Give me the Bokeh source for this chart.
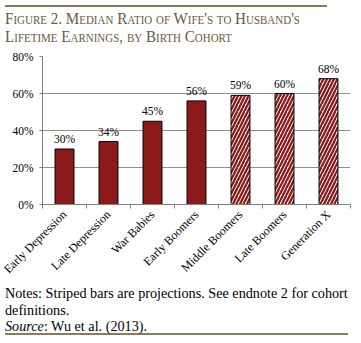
from bokeh.plotting import figure
from bokeh.models import Div, FixedTicker, Range1d, ColumnDataSource
from bokeh.layouts import column
from bokeh.embed import file_html
from bokeh.resources import INLINE
from bokeh.core.properties import value
import math

categories = ["Early Depression", "Late Depression", "War Babies", "Early Boomers",
              "Middle Boomers", "Late Boomers", "Generation X"]
values = [30, 34, 45, 56, 59, 60, 68]
projected = [False, False, False, False, True, True, True]
y_ticks = [0, 20, 40, 60, 80]
y_tick_labels = ["0%", "20%", "40%", "60%", "80%"]

xs = [i + 0.5 for i in range(len(categories))]
actual = dict(x=[x for x, p in zip(xs, projected) if not p],
              top=[v for v, p in zip(values, projected) if not p])
proj = dict(x=[x for x, p in zip(xs, projected) if p],
            top=[v for v, p in zip(values, projected) if p])
labels = ColumnDataSource(dict(x=xs, y=values, t=["%d%%" % v for v in values]))

FONT = "Liberation Serif"

p = figure(frame_width=308, frame_height=148, output_backend="svg", toolbar_location=None,
           x_range=Range1d(0, len(categories)), y_range=Range1d(0, 80),
           min_border_left=42, min_border_right=11, min_border_top=8, min_border_bottom=60)
p.outline_line_color = None
p.background_fill_color = "white"
p.border_fill_color = "white"

p.vbar(x="x", top="top", bottom=0, width=0.43, source=ColumnDataSource(actual),
       fill_color="#8b1a1a", line_color="black", line_width=1)
p.vbar(x="x", top="top", bottom=0, width=0.43, source=ColumnDataSource(proj),
       fill_color="white", line_color="black", line_width=1,
       hatch_pattern="right_diagonal_line", hatch_color="#8b1a1a",
       hatch_scale=7, hatch_weight=2.3)

p.text(x="x", y="y", text="t", source=labels, y_offset=-4,
       text_align="center", text_baseline="bottom",
       text_font=value(FONT), text_font_size="11.5px", text_color="black")

# y axis
p.yaxis.ticker = FixedTicker(ticks=y_ticks)
p.yaxis.major_label_overrides = {t: l for t, l in zip(y_ticks, y_tick_labels)}
p.yaxis.major_label_text_font = FONT
p.yaxis.major_label_text_font_size = "11.5px"
p.yaxis.major_label_text_color = "black"
p.yaxis.axis_line_color = "#808080"
p.yaxis.major_tick_line_color = "#808080"
p.yaxis.major_tick_out = 3
p.yaxis.major_tick_in = 0
p.yaxis.minor_tick_line_color = None
p.yaxis.major_label_standoff = 6

# x axis: labels at centers, boundary ticks as minor ticks
p.xaxis.ticker = FixedTicker(ticks=xs, minor_ticks=list(range(len(categories) + 1)))
p.xaxis.major_label_overrides = {x: c for x, c in zip(xs, categories)}
p.xaxis.major_label_orientation = math.pi / 4
p.xaxis.major_label_text_font = FONT
p.xaxis.major_label_text_font_size = "12px"
p.xaxis.major_label_text_color = "black"
p.xaxis.major_tick_line_color = None
p.xaxis.major_tick_out = 4
p.xaxis.minor_tick_line_color = "#808080"
p.xaxis.minor_tick_out = 4
p.xaxis.minor_tick_in = 0
p.xaxis.axis_line_color = "#808080"
p.xaxis.major_label_standoff = 4

p.xgrid.grid_line_color = None
p.ygrid.ticker = FixedTicker(ticks=y_ticks)
p.ygrid.grid_line_color = "#909090"
p.ygrid.grid_line_width = 1

title = Div(text=(
    "<div style=\"margin:5px 6px 0 5px;border-top:2px solid #8a7a5a;padding-top:3px;"
    "font-family:'Liberation Serif';font-variant:small-caps;font-size:16.5px;"
    "line-height:18px;color:#6b5a3c;white-space:nowrap\">"
    "<div style=\"transform:scaleX(0.915);transform-origin:left top\">"
    "Figure 2. Median Ratio of Wife's to Husband's<br>Lifetime Earnings, by Birth Cohort</div></div>"),
    width=361, height=48, margin=0)

notes = Div(text=(
    "<div style=\"box-sizing:border-box;margin:0 6px 0 5px;padding-top:1px;height:51px;"
    "border-bottom:2px solid #8b7d50;"
    "font-family:'Liberation Serif';font-size:14.2px;line-height:16.5px;color:black;white-space:nowrap\">"
    "Notes: Striped bars are projections. See endnote 2 for cohort<br>definitions.<br>"
    "<i>Source</i>: Wu et al. (2013).</div>"),
    width=361, height=58, margin=0)

layout = column(title, p, notes, spacing=0)
open("out.html", "w").write(file_html(layout, INLINE))
